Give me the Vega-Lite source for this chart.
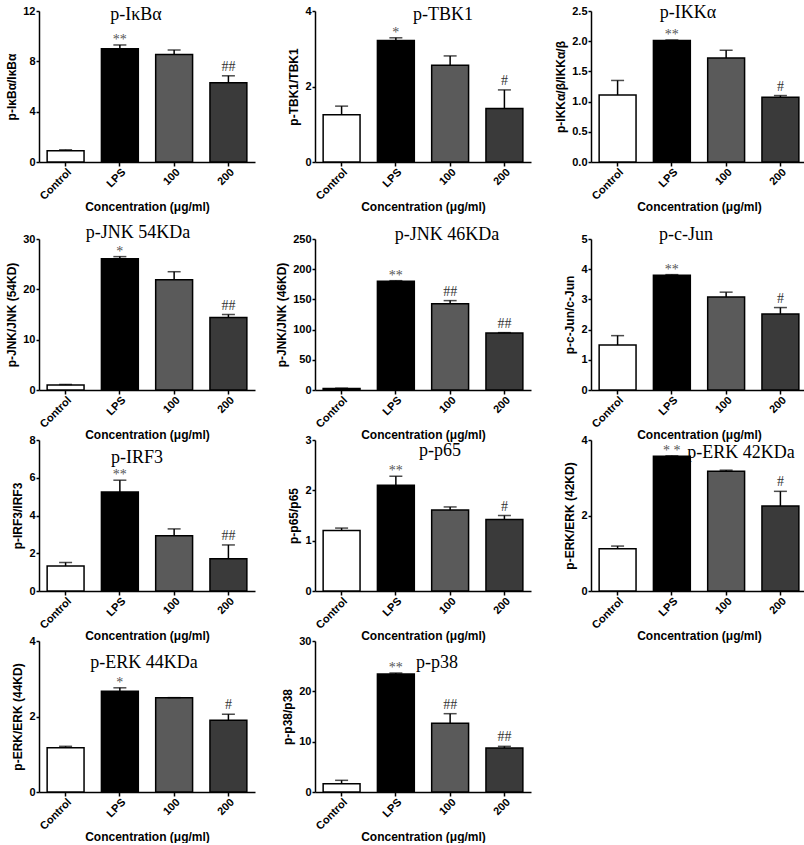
{
"$schema": "https://vega.github.io/schema/vega-lite/v6.json",
"padding": {"left": 5, "top": 4, "right": 0, "bottom": 0},
"datasets": {"d": [
{"p":"A","g":"Control","m":0.9,"u":0.97,"s":""},
{"p":"A","g":"LPS","m":9.0,"u":9.3,"s":"**"},
{"p":"A","g":"100","m":8.55,"u":8.9,"s":""},
{"p":"A","g":"200","m":6.3,"u":6.85,"s":"##"},
{"p":"B","g":"Control","m":1.25,"u":1.48,"s":""},
{"p":"B","g":"LPS","m":3.22,"u":3.29,"s":"*"},
{"p":"B","g":"100","m":2.56,"u":2.81,"s":""},
{"p":"B","g":"200","m":1.42,"u":1.91,"s":"#"},
{"p":"C","g":"Control","m":1.11,"u":1.35,"s":""},
{"p":"C","g":"LPS","m":2.01,"u":2.02,"s":"**"},
{"p":"C","g":"100","m":1.72,"u":1.85,"s":""},
{"p":"C","g":"200","m":1.07,"u":1.1,"s":"#"},
{"p":"D","g":"Control","m":1.0,"u":1.1,"s":""},
{"p":"D","g":"LPS","m":26.1,"u":26.5,"s":"*"},
{"p":"D","g":"100","m":21.9,"u":23.5,"s":""},
{"p":"D","g":"200","m":14.4,"u":15.0,"s":"##"},
{"p":"E","g":"Control","m":2.5,"u":3.0,"s":""},
{"p":"E","g":"LPS","m":180,"u":181,"s":"**"},
{"p":"E","g":"100","m":143,"u":148,"s":"##"},
{"p":"E","g":"200","m":94.5,"u":95,"s":"##"},
{"p":"F","g":"Control","m":1.49,"u":1.8,"s":""},
{"p":"F","g":"LPS","m":3.8,"u":3.82,"s":"**"},
{"p":"F","g":"100","m":3.08,"u":3.24,"s":""},
{"p":"F","g":"200","m":2.52,"u":2.73,"s":"#"},
{"p":"G","g":"Control","m":1.32,"u":1.51,"s":""},
{"p":"G","g":"LPS","m":5.24,"u":5.87,"s":"**"},
{"p":"G","g":"100","m":2.93,"u":3.29,"s":""},
{"p":"G","g":"200","m":1.71,"u":2.44,"s":"##"},
{"p":"H","g":"Control","m":1.2,"u":1.25,"s":""},
{"p":"H","g":"LPS","m":2.1,"u":2.28,"s":"**"},
{"p":"H","g":"100","m":1.61,"u":1.67,"s":""},
{"p":"H","g":"200","m":1.42,"u":1.5,"s":"#"},
{"p":"I","g":"Control","m":1.12,"u":1.19,"s":""},
{"p":"I","g":"LPS","m":3.57,"u":3.58,"s":"* *"},
{"p":"I","g":"100","m":3.17,"u":3.2,"s":""},
{"p":"I","g":"200","m":2.25,"u":2.64,"s":"#"},
{"p":"J","g":"Control","m":1.17,"u":1.21,"s":""},
{"p":"J","g":"LPS","m":2.67,"u":2.76,"s":"*"},
{"p":"J","g":"100","m":2.5,"u":2.5,"s":""},
{"p":"J","g":"200","m":1.9,"u":2.06,"s":"#"},
{"p":"K","g":"Control","m":1.66,"u":2.32,"s":""},
{"p":"K","g":"LPS","m":23.44,"u":23.64,"s":"**"},
{"p":"K","g":"100","m":13.64,"u":15.56,"s":"##"},
{"p":"K","g":"200","m":8.74,"u":9.07,"s":"##"}
]},
"spacing": 11,
"vconcat": [
{"hconcat": [
{"width":216,"height":151,"data":{"name":"d"},"transform":[{"filter":"datum.p == 'A'"}],
 "title":{"text":"p-IκBα","dx":-11,"dy":23},
 "encoding":{"x":{"field":"g","type":"nominal","sort":["Control","LPS","100","200"],"title":"Concentration (μg/ml)","scale":{"paddingInner":0.32,"paddingOuter":0.15}}},
 "layer":[
  {"mark":{"type":"bar","stroke":"black","strokeWidth":1.5},"encoding":{"y":{"field":"m","type":"quantitative","scale":{"domain":[0,12],"nice":false},"axis":{"values":[0,4,8,12],"labelOverlap":false},"title":"p-IκBα/IκBα"},"fill":{"field":"g","type":"nominal","scale":{"domain":["Control","LPS","100","200"],"range":["#ffffff","#000000","#5a5a5a","#3a3a3a"]},"legend":null}}},
  {"mark":{"type":"rule","strokeWidth":1.5,"color":"black"},"encoding":{"y":{"field":"m","type":"quantitative","axis":{"values":[0,4,8,12],"labelOverlap":false},"title":"p-IκBα/IκBα"},"y2":{"field":"u"}}},
  {"mark":{"type":"tick","thickness":1.5,"size":13,"color":"black"},"encoding":{"y":{"field":"u","type":"quantitative","axis":{"values":[0,4,8,12],"labelOverlap":false},"title":"p-IκBα/IκBα"}}},
  {"transform":[{"filter":"indexof(datum.s, '*') >= 0"}],"mark":{"type":"text","font":"Liberation Serif","fontSize":14,"color":"#555","baseline":"alphabetic","dy":-1},"encoding":{"y":{"field":"u","type":"quantitative","axis":{"values":[0,4,8,12],"labelOverlap":false},"title":"p-IκBα/IκBα"},"text":{"field":"s"}}},
  {"transform":[{"filter":"indexof(datum.s, '#') >= 0"}],"mark":{"type":"text","font":"Liberation Serif","fontSize":14,"color":"#333","baseline":"alphabetic","dy":-5},"encoding":{"y":{"field":"u","type":"quantitative","axis":{"values":[0,4,8,12],"labelOverlap":false},"title":"p-IκBα/IκBα"},"text":{"field":"s"}}}
 ]},
{"width":216,"height":151,"data":{"name":"d"},"transform":[{"filter":"datum.p == 'B'"}],
 "title":{"text":"p-TBK1","dx":20,"dy":23},
 "encoding":{"x":{"field":"g","type":"nominal","sort":["Control","LPS","100","200"],"title":"Concentration (μg/ml)","scale":{"paddingInner":0.32,"paddingOuter":0.15}}},
 "layer":[
  {"mark":{"type":"bar","stroke":"black","strokeWidth":1.5},"encoding":{"y":{"field":"m","type":"quantitative","scale":{"domain":[0,4],"nice":false},"axis":{"values":[0,2,4],"labelOverlap":false},"title":"p-TBK1/TBK1"},"fill":{"field":"g","type":"nominal","scale":{"domain":["Control","LPS","100","200"],"range":["#ffffff","#000000","#5a5a5a","#3a3a3a"]},"legend":null}}},
  {"mark":{"type":"rule","strokeWidth":1.5,"color":"black"},"encoding":{"y":{"field":"m","type":"quantitative","axis":{"values":[0,2,4],"labelOverlap":false},"title":"p-TBK1/TBK1"},"y2":{"field":"u"}}},
  {"mark":{"type":"tick","thickness":1.5,"size":13,"color":"black"},"encoding":{"y":{"field":"u","type":"quantitative","axis":{"values":[0,2,4],"labelOverlap":false},"title":"p-TBK1/TBK1"}}},
  {"transform":[{"filter":"indexof(datum.s, '*') >= 0"}],"mark":{"type":"text","font":"Liberation Serif","fontSize":14,"color":"#555","baseline":"alphabetic","dy":-1},"encoding":{"y":{"field":"u","type":"quantitative","axis":{"values":[0,2,4],"labelOverlap":false},"title":"p-TBK1/TBK1"},"text":{"field":"s"}}},
  {"transform":[{"filter":"indexof(datum.s, '#') >= 0"}],"mark":{"type":"text","font":"Liberation Serif","fontSize":14,"color":"#333","baseline":"alphabetic","dy":-5},"encoding":{"y":{"field":"u","type":"quantitative","axis":{"values":[0,2,4],"labelOverlap":false},"title":"p-TBK1/TBK1"},"text":{"field":"s"}}}
 ]},
{"width":216,"height":151,"data":{"name":"d"},"transform":[{"filter":"datum.p == 'C'"}],
 "title":{"text":"p-IKKα","dx":-11,"dy":21},
 "encoding":{"x":{"field":"g","type":"nominal","sort":["Control","LPS","100","200"],"title":"Concentration (μg/ml)","scale":{"paddingInner":0.32,"paddingOuter":0.15}}},
 "layer":[
  {"mark":{"type":"bar","stroke":"black","strokeWidth":1.5},"encoding":{"y":{"field":"m","type":"quantitative","scale":{"domain":[0,2.5],"nice":false},"axis":{"values":[0,0.5,1,1.5,2,2.5],"format":".1f","labelOverlap":false},"title":"p-IKKα/β/IKKα/β"},"fill":{"field":"g","type":"nominal","scale":{"domain":["Control","LPS","100","200"],"range":["#ffffff","#000000","#5a5a5a","#3a3a3a"]},"legend":null}}},
  {"mark":{"type":"rule","strokeWidth":1.5,"color":"black"},"encoding":{"y":{"field":"m","type":"quantitative","axis":{"values":[0,0.5,1,1.5,2,2.5],"format":".1f","labelOverlap":false},"title":"p-IKKα/β/IKKα/β"},"y2":{"field":"u"}}},
  {"mark":{"type":"tick","thickness":1.5,"size":13,"color":"black"},"encoding":{"y":{"field":"u","type":"quantitative","axis":{"values":[0,0.5,1,1.5,2,2.5],"format":".1f","labelOverlap":false},"title":"p-IKKα/β/IKKα/β"}}},
  {"transform":[{"filter":"indexof(datum.s, '*') >= 0"}],"mark":{"type":"text","font":"Liberation Serif","fontSize":14,"color":"#555","baseline":"alphabetic","dy":-1},"encoding":{"y":{"field":"u","type":"quantitative","axis":{"values":[0,0.5,1,1.5,2,2.5],"format":".1f","labelOverlap":false},"title":"p-IKKα/β/IKKα/β"},"text":{"field":"s"}}},
  {"transform":[{"filter":"indexof(datum.s, '#') >= 0"}],"mark":{"type":"text","font":"Liberation Serif","fontSize":14,"color":"#333","baseline":"alphabetic","dy":-5},"encoding":{"y":{"field":"u","type":"quantitative","axis":{"values":[0,0.5,1,1.5,2,2.5],"format":".1f","labelOverlap":false},"title":"p-IKKα/β/IKKα/β"},"text":{"field":"s"}}}
 ]}
], "bounds": "flush", "spacing": 60},
{"concat": [
{"width":216,"height":151,"data":{"name":"d"},"transform":[{"filter":"datum.p == 'D'"}],
 "title":{"text":"p-JNK 54KDa","dx":-9,"dy":13},
 "encoding":{"x":{"field":"g","type":"nominal","sort":["Control","LPS","100","200"],"title":"Concentration (μg/ml)","scale":{"paddingInner":0.32,"paddingOuter":0.15}}},
 "layer":[
  {"mark":{"type":"bar","stroke":"black","strokeWidth":1.5},"encoding":{"y":{"field":"m","type":"quantitative","scale":{"domain":[0,30],"nice":false},"axis":{"values":[0,10,20,30],"labelOverlap":false},"title":"p-JNK/JNK (54KD)"},"fill":{"field":"g","type":"nominal","scale":{"domain":["Control","LPS","100","200"],"range":["#ffffff","#000000","#5a5a5a","#3a3a3a"]},"legend":null}}},
  {"mark":{"type":"rule","strokeWidth":1.5,"color":"black"},"encoding":{"y":{"field":"m","type":"quantitative","axis":{"values":[0,10,20,30],"labelOverlap":false},"title":"p-JNK/JNK (54KD)"},"y2":{"field":"u"}}},
  {"mark":{"type":"tick","thickness":1.5,"size":13,"color":"black"},"encoding":{"y":{"field":"u","type":"quantitative","axis":{"values":[0,10,20,30],"labelOverlap":false},"title":"p-JNK/JNK (54KD)"}}},
  {"transform":[{"filter":"indexof(datum.s, '*') >= 0"}],"mark":{"type":"text","font":"Liberation Serif","fontSize":14,"color":"#555","baseline":"alphabetic","dy":-1},"encoding":{"y":{"field":"u","type":"quantitative","axis":{"values":[0,10,20,30],"labelOverlap":false},"title":"p-JNK/JNK (54KD)"},"text":{"field":"s"}}},
  {"transform":[{"filter":"indexof(datum.s, '#') >= 0"}],"mark":{"type":"text","font":"Liberation Serif","fontSize":14,"color":"#333","baseline":"alphabetic","dy":-5},"encoding":{"y":{"field":"u","type":"quantitative","axis":{"values":[0,10,20,30],"labelOverlap":false},"title":"p-JNK/JNK (54KD)"},"text":{"field":"s"}}}
 ]},
{"width":216,"height":151,"data":{"name":"d"},"transform":[{"filter":"datum.p == 'E'"}],
 "title":{"text":"p-JNK 46KDa","dx":24,"dy":15},
 "encoding":{"x":{"field":"g","type":"nominal","sort":["Control","LPS","100","200"],"title":"Concentration (μg/ml)","scale":{"paddingInner":0.32,"paddingOuter":0.15}}},
 "layer":[
  {"mark":{"type":"bar","stroke":"black","strokeWidth":1.5},"encoding":{"y":{"field":"m","type":"quantitative","scale":{"domain":[0,250],"nice":false},"axis":{"values":[0,50,100,150,200,250],"labelOverlap":false},"title":"p-JNK/JNK (46KD)"},"fill":{"field":"g","type":"nominal","scale":{"domain":["Control","LPS","100","200"],"range":["#ffffff","#000000","#5a5a5a","#3a3a3a"]},"legend":null}}},
  {"mark":{"type":"rule","strokeWidth":1.5,"color":"black"},"encoding":{"y":{"field":"m","type":"quantitative","axis":{"values":[0,50,100,150,200,250],"labelOverlap":false},"title":"p-JNK/JNK (46KD)"},"y2":{"field":"u"}}},
  {"mark":{"type":"tick","thickness":1.5,"size":13,"color":"black"},"encoding":{"y":{"field":"u","type":"quantitative","axis":{"values":[0,50,100,150,200,250],"labelOverlap":false},"title":"p-JNK/JNK (46KD)"}}},
  {"transform":[{"filter":"indexof(datum.s, '*') >= 0"}],"mark":{"type":"text","font":"Liberation Serif","fontSize":14,"color":"#555","baseline":"alphabetic","dy":-1},"encoding":{"y":{"field":"u","type":"quantitative","axis":{"values":[0,50,100,150,200,250],"labelOverlap":false},"title":"p-JNK/JNK (46KD)"},"text":{"field":"s"}}},
  {"transform":[{"filter":"indexof(datum.s, '#') >= 0"}],"mark":{"type":"text","font":"Liberation Serif","fontSize":14,"color":"#333","baseline":"alphabetic","dy":-5},"encoding":{"y":{"field":"u","type":"quantitative","axis":{"values":[0,50,100,150,200,250],"labelOverlap":false},"title":"p-JNK/JNK (46KD)"},"text":{"field":"s"}}}
 ]},
{"width":216,"height":151,"data":{"name":"d"},"transform":[{"filter":"datum.p == 'F'"}],
 "title":{"text":"p-c-Jun","dx":-13,"dy":15},
 "encoding":{"x":{"field":"g","type":"nominal","sort":["Control","LPS","100","200"],"title":"Concentration (μg/ml)","scale":{"paddingInner":0.32,"paddingOuter":0.15}}},
 "layer":[
  {"mark":{"type":"bar","stroke":"black","strokeWidth":1.5},"encoding":{"y":{"field":"m","type":"quantitative","scale":{"domain":[0,5],"nice":false},"axis":{"values":[0,1,2,3,4,5],"labelOverlap":false},"title":"p-c-Jun/c-Jun"},"fill":{"field":"g","type":"nominal","scale":{"domain":["Control","LPS","100","200"],"range":["#ffffff","#000000","#5a5a5a","#3a3a3a"]},"legend":null}}},
  {"mark":{"type":"rule","strokeWidth":1.5,"color":"black"},"encoding":{"y":{"field":"m","type":"quantitative","axis":{"values":[0,1,2,3,4,5],"labelOverlap":false},"title":"p-c-Jun/c-Jun"},"y2":{"field":"u"}}},
  {"mark":{"type":"tick","thickness":1.5,"size":13,"color":"black"},"encoding":{"y":{"field":"u","type":"quantitative","axis":{"values":[0,1,2,3,4,5],"labelOverlap":false},"title":"p-c-Jun/c-Jun"}}},
  {"transform":[{"filter":"indexof(datum.s, '*') >= 0"}],"mark":{"type":"text","font":"Liberation Serif","fontSize":14,"color":"#555","baseline":"alphabetic","dy":-1},"encoding":{"y":{"field":"u","type":"quantitative","axis":{"values":[0,1,2,3,4,5],"labelOverlap":false},"title":"p-c-Jun/c-Jun"},"text":{"field":"s"}}},
  {"transform":[{"filter":"indexof(datum.s, '#') >= 0"}],"mark":{"type":"text","font":"Liberation Serif","fontSize":14,"color":"#333","baseline":"alphabetic","dy":-5},"encoding":{"y":{"field":"u","type":"quantitative","axis":{"values":[0,1,2,3,4,5],"labelOverlap":false},"title":"p-c-Jun/c-Jun"},"text":{"field":"s"}}}
 ]},
{"width":216,"height":151,"data":{"name":"d"},"transform":[{"filter":"datum.p == 'G'"}],
 "title":{"text":"p-IRF3","dx":-10,"dy":37},
 "encoding":{"x":{"field":"g","type":"nominal","sort":["Control","LPS","100","200"],"title":"Concentration (μg/ml)","scale":{"paddingInner":0.32,"paddingOuter":0.15}}},
 "layer":[
  {"mark":{"type":"bar","stroke":"black","strokeWidth":1.5},"encoding":{"y":{"field":"m","type":"quantitative","scale":{"domain":[0,8],"nice":false},"axis":{"values":[0,2,4,6,8],"labelOverlap":false},"title":"p-IRF3/IRF3"},"fill":{"field":"g","type":"nominal","scale":{"domain":["Control","LPS","100","200"],"range":["#ffffff","#000000","#5a5a5a","#3a3a3a"]},"legend":null}}},
  {"mark":{"type":"rule","strokeWidth":1.5,"color":"black"},"encoding":{"y":{"field":"m","type":"quantitative","axis":{"values":[0,2,4,6,8],"labelOverlap":false},"title":"p-IRF3/IRF3"},"y2":{"field":"u"}}},
  {"mark":{"type":"tick","thickness":1.5,"size":13,"color":"black"},"encoding":{"y":{"field":"u","type":"quantitative","axis":{"values":[0,2,4,6,8],"labelOverlap":false},"title":"p-IRF3/IRF3"}}},
  {"transform":[{"filter":"indexof(datum.s, '*') >= 0"}],"mark":{"type":"text","font":"Liberation Serif","fontSize":14,"color":"#555","baseline":"alphabetic","dy":-1},"encoding":{"y":{"field":"u","type":"quantitative","axis":{"values":[0,2,4,6,8],"labelOverlap":false},"title":"p-IRF3/IRF3"},"text":{"field":"s"}}},
  {"transform":[{"filter":"indexof(datum.s, '#') >= 0"}],"mark":{"type":"text","font":"Liberation Serif","fontSize":14,"color":"#333","baseline":"alphabetic","dy":-5},"encoding":{"y":{"field":"u","type":"quantitative","axis":{"values":[0,2,4,6,8],"labelOverlap":false},"title":"p-IRF3/IRF3"},"text":{"field":"s"}}}
 ]},
{"width":216,"height":151,"data":{"name":"d"},"transform":[{"filter":"datum.p == 'H'"}],
 "title":{"text":"p-p65","dx":17,"dy":30},
 "encoding":{"x":{"field":"g","type":"nominal","sort":["Control","LPS","100","200"],"title":"Concentration (μg/ml)","scale":{"paddingInner":0.32,"paddingOuter":0.15}}},
 "layer":[
  {"mark":{"type":"bar","stroke":"black","strokeWidth":1.5},"encoding":{"y":{"field":"m","type":"quantitative","scale":{"domain":[0,3],"nice":false},"axis":{"values":[0,1,2,3],"labelOverlap":false},"title":"p-p65/p65"},"fill":{"field":"g","type":"nominal","scale":{"domain":["Control","LPS","100","200"],"range":["#ffffff","#000000","#5a5a5a","#3a3a3a"]},"legend":null}}},
  {"mark":{"type":"rule","strokeWidth":1.5,"color":"black"},"encoding":{"y":{"field":"m","type":"quantitative","axis":{"values":[0,1,2,3],"labelOverlap":false},"title":"p-p65/p65"},"y2":{"field":"u"}}},
  {"mark":{"type":"tick","thickness":1.5,"size":13,"color":"black"},"encoding":{"y":{"field":"u","type":"quantitative","axis":{"values":[0,1,2,3],"labelOverlap":false},"title":"p-p65/p65"}}},
  {"transform":[{"filter":"indexof(datum.s, '*') >= 0"}],"mark":{"type":"text","font":"Liberation Serif","fontSize":14,"color":"#555","baseline":"alphabetic","dy":-1},"encoding":{"y":{"field":"u","type":"quantitative","axis":{"values":[0,1,2,3],"labelOverlap":false},"title":"p-p65/p65"},"text":{"field":"s"}}},
  {"transform":[{"filter":"indexof(datum.s, '#') >= 0"}],"mark":{"type":"text","font":"Liberation Serif","fontSize":14,"color":"#333","baseline":"alphabetic","dy":-5},"encoding":{"y":{"field":"u","type":"quantitative","axis":{"values":[0,1,2,3],"labelOverlap":false},"title":"p-p65/p65"},"text":{"field":"s"}}}
 ]},
{"width":216,"height":151,"data":{"name":"d"},"transform":[{"filter":"datum.p == 'I'"}],
 "title":{"text":"p-ERK 42KDa","dx":42,"dy":32},
 "encoding":{"x":{"field":"g","type":"nominal","sort":["Control","LPS","100","200"],"title":"Concentration (μg/ml)","scale":{"paddingInner":0.32,"paddingOuter":0.15}}},
 "layer":[
  {"mark":{"type":"bar","stroke":"black","strokeWidth":1.5},"encoding":{"y":{"field":"m","type":"quantitative","scale":{"domain":[0,4],"nice":false},"axis":{"values":[0,2,4],"labelOverlap":false},"title":"p-ERK/ERK (42KD)"},"fill":{"field":"g","type":"nominal","scale":{"domain":["Control","LPS","100","200"],"range":["#ffffff","#000000","#5a5a5a","#3a3a3a"]},"legend":null}}},
  {"mark":{"type":"rule","strokeWidth":1.5,"color":"black"},"encoding":{"y":{"field":"m","type":"quantitative","axis":{"values":[0,2,4],"labelOverlap":false},"title":"p-ERK/ERK (42KD)"},"y2":{"field":"u"}}},
  {"mark":{"type":"tick","thickness":1.5,"size":13,"color":"black"},"encoding":{"y":{"field":"u","type":"quantitative","axis":{"values":[0,2,4],"labelOverlap":false},"title":"p-ERK/ERK (42KD)"}}},
  {"transform":[{"filter":"indexof(datum.s, '*') >= 0"}],"mark":{"type":"text","font":"Liberation Serif","fontSize":14,"color":"#555","baseline":"alphabetic","dy":-1},"encoding":{"y":{"field":"u","type":"quantitative","axis":{"values":[0,2,4],"labelOverlap":false},"title":"p-ERK/ERK (42KD)"},"text":{"field":"s"}}},
  {"transform":[{"filter":"indexof(datum.s, '#') >= 0"}],"mark":{"type":"text","font":"Liberation Serif","fontSize":14,"color":"#333","baseline":"alphabetic","dy":-5},"encoding":{"y":{"field":"u","type":"quantitative","axis":{"values":[0,2,4],"labelOverlap":false},"title":"p-ERK/ERK (42KD)"},"text":{"field":"s"}}}
 ]},
{"width":216,"height":151,"data":{"name":"d"},"transform":[{"filter":"datum.p == 'J'"}],
 "title":{"text":"p-ERK 44KDa","dx":-3,"dy":41},
 "encoding":{"x":{"field":"g","type":"nominal","sort":["Control","LPS","100","200"],"title":"Concentration (μg/ml)","scale":{"paddingInner":0.32,"paddingOuter":0.15}}},
 "layer":[
  {"mark":{"type":"bar","stroke":"black","strokeWidth":1.5},"encoding":{"y":{"field":"m","type":"quantitative","scale":{"domain":[0,4],"nice":false},"axis":{"values":[0,2,4],"labelOverlap":false},"title":"p-ERK/ERK (44KD)"},"fill":{"field":"g","type":"nominal","scale":{"domain":["Control","LPS","100","200"],"range":["#ffffff","#000000","#5a5a5a","#3a3a3a"]},"legend":null}}},
  {"mark":{"type":"rule","strokeWidth":1.5,"color":"black"},"encoding":{"y":{"field":"m","type":"quantitative","axis":{"values":[0,2,4],"labelOverlap":false},"title":"p-ERK/ERK (44KD)"},"y2":{"field":"u"}}},
  {"mark":{"type":"tick","thickness":1.5,"size":13,"color":"black"},"encoding":{"y":{"field":"u","type":"quantitative","axis":{"values":[0,2,4],"labelOverlap":false},"title":"p-ERK/ERK (44KD)"}}},
  {"transform":[{"filter":"indexof(datum.s, '*') >= 0"}],"mark":{"type":"text","font":"Liberation Serif","fontSize":14,"color":"#555","baseline":"alphabetic","dy":-1},"encoding":{"y":{"field":"u","type":"quantitative","axis":{"values":[0,2,4],"labelOverlap":false},"title":"p-ERK/ERK (44KD)"},"text":{"field":"s"}}},
  {"transform":[{"filter":"indexof(datum.s, '#') >= 0"}],"mark":{"type":"text","font":"Liberation Serif","fontSize":14,"color":"#333","baseline":"alphabetic","dy":-5},"encoding":{"y":{"field":"u","type":"quantitative","axis":{"values":[0,2,4],"labelOverlap":false},"title":"p-ERK/ERK (44KD)"},"text":{"field":"s"}}}
 ]},
{"width":216,"height":151,"data":{"name":"d"},"transform":[{"filter":"datum.p == 'K'"}],
 "title":{"text":"p-p38","dx":14,"dy":41},
 "encoding":{"x":{"field":"g","type":"nominal","sort":["Control","LPS","100","200"],"title":"Concentration (μg/ml)","scale":{"paddingInner":0.32,"paddingOuter":0.15}}},
 "layer":[
  {"mark":{"type":"bar","stroke":"black","strokeWidth":1.5},"encoding":{"y":{"field":"m","type":"quantitative","scale":{"domain":[0,30],"nice":false},"axis":{"values":[0,10,20,30],"labelOverlap":false},"title":"p-p38/p38"},"fill":{"field":"g","type":"nominal","scale":{"domain":["Control","LPS","100","200"],"range":["#ffffff","#000000","#5a5a5a","#3a3a3a"]},"legend":null}}},
  {"mark":{"type":"rule","strokeWidth":1.5,"color":"black"},"encoding":{"y":{"field":"m","type":"quantitative","axis":{"values":[0,10,20,30],"labelOverlap":false},"title":"p-p38/p38"},"y2":{"field":"u"}}},
  {"mark":{"type":"tick","thickness":1.5,"size":13,"color":"black"},"encoding":{"y":{"field":"u","type":"quantitative","axis":{"values":[0,10,20,30],"labelOverlap":false},"title":"p-p38/p38"}}},
  {"transform":[{"filter":"indexof(datum.s, '*') >= 0"}],"mark":{"type":"text","font":"Liberation Serif","fontSize":14,"color":"#555","baseline":"alphabetic","dy":-1},"encoding":{"y":{"field":"u","type":"quantitative","axis":{"values":[0,10,20,30],"labelOverlap":false},"title":"p-p38/p38"},"text":{"field":"s"}}},
  {"transform":[{"filter":"indexof(datum.s, '#') >= 0"}],"mark":{"type":"text","font":"Liberation Serif","fontSize":14,"color":"#333","baseline":"alphabetic","dy":-5},"encoding":{"y":{"field":"u","type":"quantitative","axis":{"values":[0,10,20,30],"labelOverlap":false},"title":"p-p38/p38"},"text":{"field":"s"}}}
 ]}
], "columns": 3, "bounds": "flush", "spacing": {"row": 50, "column": 60}}
],
"config": {
 "view": {"stroke": null},
 "font": "Liberation Sans",
 "axis": {"grid": false, "domainColor": "black", "domainWidth": 1.5, "tickColor": "black", "tickWidth": 1.5, "tickSize": 4, "labelColor": "black", "labelFont": "Liberation Sans", "labelFontWeight": "bold", "labelFontSize": 11, "titleColor": "black", "titleFont": "Liberation Sans", "titleFontWeight": "bold", "titleFontSize": 12, "labelPadding": 2},
 "axisX": {"labelAngle": -45, "titlePadding": 0, "labelPadding": 0},
 "axisY": {"labelOverlap": false, "labelFlush": false, "tickSize": 3, "labelPadding": 1},
 "axisQuantitative": {"labelOverlap": false},
 "title": {"font": "Liberation Serif", "fontSize": 18, "fontWeight": "normal", "color": "black", "anchor": "middle", "frame": "group", "offset": 0}
}
}
